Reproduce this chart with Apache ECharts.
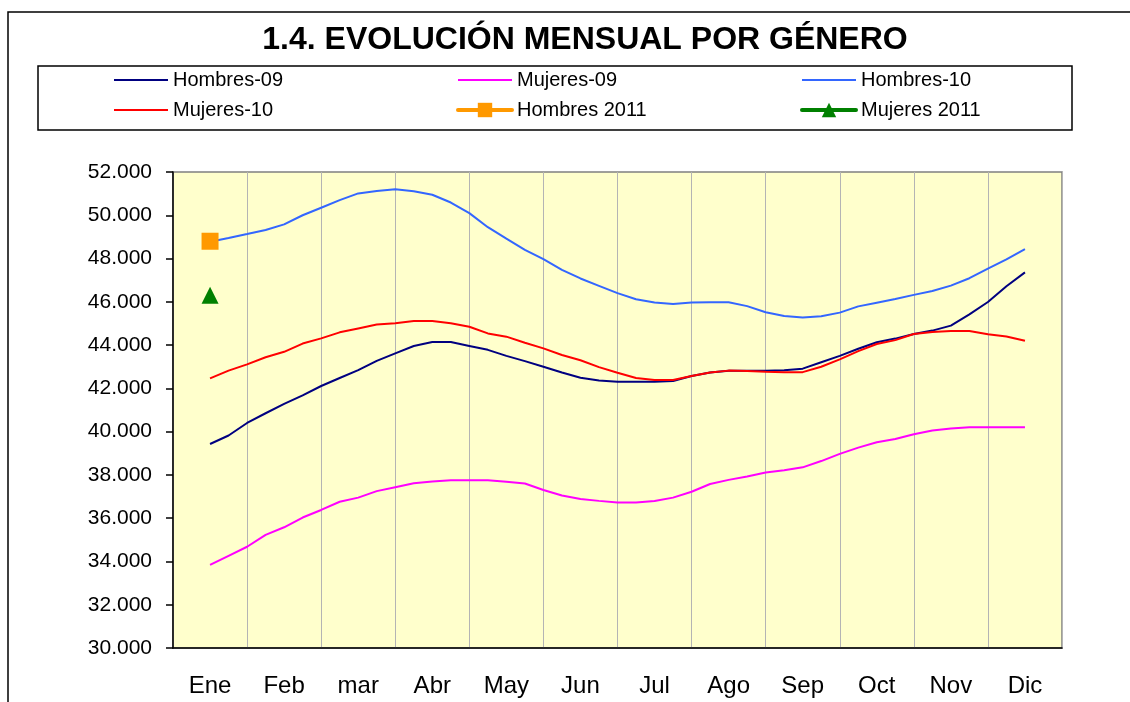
<!DOCTYPE html>
<html>
<head>
<meta charset="utf-8">
<script src="https://cdn.jsdelivr.net/npm/echarts@6/dist/echarts.min.js"></script>
<style>
  html, body { margin: 0; padding: 0; background: #fff; }
  #main { width: 1130px; height: 702px; }
</style>
</head>
<body>
<div id="main"></div>
<script>
// meses del eje
const months = ['Ene', 'Feb', 'mar', 'Abr', 'May', 'Jun', 'Jul', 'Ago', 'Sep', 'Oct', 'Nov', 'Dic']

// valores cada cuarto de mes (desde Ene hasta Dic)
const hombres09 = [
  39430, 39820, 40400, 40850, 41280, 41680, 42110, 42480, 42840, 43270, 43620, 43960,
  44140, 44140, 43960, 43780, 43500, 43260, 43000, 42730, 42490, 42360, 42310, 42310,
  42310, 42340, 42570, 42730, 42810, 42810, 42810, 42840, 42910, 43210, 43500, 43830,
  44130, 44300, 44510, 44670, 44900, 45420, 45990, 46720, 47360
]
const mujeres09 = [
  33840, 34260, 34680, 35230, 35580, 36030, 36380, 36760, 36950, 37250, 37430, 37610,
  37690, 37750, 37750, 37750, 37680, 37600, 37300, 37050, 36890, 36800, 36720, 36720,
  36790, 36950, 37220, 37580, 37770, 37930, 38110, 38220, 38350, 38640, 38970, 39260,
  39510, 39660, 39880, 40050, 40150, 40200, 40200, 40200, 40200
]
const hombres10 = [
  48780, 48950, 49130, 49320, 49580, 50000, 50350, 50700, 51010, 51120, 51200, 51110,
  50950, 50590, 50100, 49450, 48920, 48400, 47970, 47480, 47080, 46740, 46400, 46120,
  45970, 45900, 45970, 45980, 45980, 45800, 45520, 45340, 45270, 45330, 45500, 45790,
  45960, 46130, 46320, 46500, 46750, 47090, 47530, 47960, 48430
]
const mujeres10 = [
  42460, 42820, 43110, 43440, 43690, 44070, 44310, 44590, 44770, 44950, 45010, 45110,
  45110, 45010, 44850, 44540, 44390, 44110, 43850, 43540, 43300, 42980, 42720, 42480,
  42390, 42390, 42570, 42730, 42820, 42800, 42770, 42750, 42750, 43000, 43340, 43720,
  44050, 44230, 44510, 44600, 44650, 44650, 44500, 44400, 44200
]
const hombres2011 = [48800]
const mujeres2011 = [46300]

// ticks del eje Y
const yMin = 30000
const yMax = 52000
const yStep = 2000

const FONT = 'Liberation Sans, Arial, sans-serif'

// pasar a pares [mes, valor]
const toPairs = function (arr) {
  return arr.map((v, i) => [i / 4, v])
}

const fmtMiles = function (v) {
  return String(v).replace(/\B(?=(\d{3})+(?!\d))/g, '.')
}

const myChart = echarts.init(document.getElementById('main'))

// leyenda: solo la linea para las series mensuales
const lineItem = function (name) {
  return { name: name, itemStyle: { opacity: 0 } }
}
const markItem = function (name) {
  return { name: name, lineStyle: { width: 4, cap: 'round' } }
}

const legendBase = {
  orient: 'vertical',
  top: 70,
  itemWidth: 54,
  itemHeight: 18,
  itemGap: 10,
  padding: 0,
  textStyle: { fontFamily: FONT, fontSize: 20, color: '#000' }
}

myChart.setOption({
  animation: false,
  backgroundColor: '#fff',
  title: {
    text: '1.4. EVOLUCIÓN MENSUAL POR GÉNERO',
    left: 580,
    top: 19,
    textAlign: 'center',
    textStyle: { fontFamily: FONT, fontSize: 32, fontWeight: 'bold', color: '#000' }
  },
  graphic: [
    // marco exterior
    { type: 'rect', z: -10, shape: { x: 8, y: 12, width: 1300, height: 900 },
      style: { fill: 'none', stroke: '#000', lineWidth: 1.5 } },
    // caja de la leyenda
    { type: 'rect', z: -10, shape: { x: 38, y: 66, width: 1034, height: 64 },
      style: { fill: '#fff', stroke: '#000', lineWidth: 1.5 } }
  ],
  legend: [
    Object.assign({}, legendBase, { left: 113, data: [lineItem('Hombres-09'), lineItem('Mujeres-10')] }),
    Object.assign({}, legendBase, { left: 456, data: [lineItem('Mujeres-09'), markItem('Hombres 2011')] }),
    Object.assign({}, legendBase, { left: 800, data: [lineItem('Hombres-10'), markItem('Mujeres 2011')] })
  ],
  grid: {
    left: 173,
    right: 68,
    top: 172,
    bottom: 54,
    show: true,
    backgroundColor: '#FFFFCC',
    borderColor: '#808080',
    borderWidth: 1.5
  },
  xAxis: [
    {
      type: 'category',
      data: months,
      boundaryGap: true,
      axisLine: { lineStyle: { color: '#000', width: 1.5 } },
      axisTick: { show: false },
      axisLabel: { fontFamily: FONT, fontSize: 24, color: '#000', margin: 26 },
      splitLine: { show: true, lineStyle: { color: '#b4b4b4', width: 1 } }
    },
    {
      type: 'value',
      min: -0.5,
      max: 11.5,
      show: false
    }
  ],
  yAxis: {
    type: 'value',
    min: yMin,
    max: yMax,
    interval: yStep,
    axisLine: { show: true, onZero: false, lineStyle: { color: '#000', width: 1.5 } },
    axisTick: { show: true, length: 7, lineStyle: { color: '#000', width: 1.5 } },
    axisLabel: { fontFamily: FONT, fontSize: 21, color: '#000', margin: 21, formatter: fmtMiles },
    splitLine: { show: false }
  },
  series: [
    { name: 'Hombres-09', type: 'line', xAxisIndex: 1, data: toPairs(hombres09), symbol: 'none',
      color: '#000080', lineStyle: { width: 2 } },
    { name: 'Mujeres-09', type: 'line', xAxisIndex: 1, data: toPairs(mujeres09), symbol: 'none',
      color: '#FF00FF', lineStyle: { width: 2 } },
    { name: 'Hombres-10', type: 'line', xAxisIndex: 1, data: toPairs(hombres10), symbol: 'none',
      color: '#3366FF', lineStyle: { width: 2 } },
    { name: 'Mujeres-10', type: 'line', xAxisIndex: 1, data: toPairs(mujeres10), symbol: 'none',
      color: '#FF0000', lineStyle: { width: 2 } },
    { name: 'Hombres 2011', type: 'line', xAxisIndex: 1, data: toPairs(hombres2011), symbol: 'rect',
      symbolSize: 17, showSymbol: true, color: '#FF9900', lineStyle: { width: 4 } },
    { name: 'Mujeres 2011', type: 'line', xAxisIndex: 1, data: toPairs(mujeres2011), symbol: 'triangle',
      symbolSize: 17, showSymbol: true, color: '#008000', lineStyle: { width: 4 } }
  ]
})
</script>
</body>
</html>
